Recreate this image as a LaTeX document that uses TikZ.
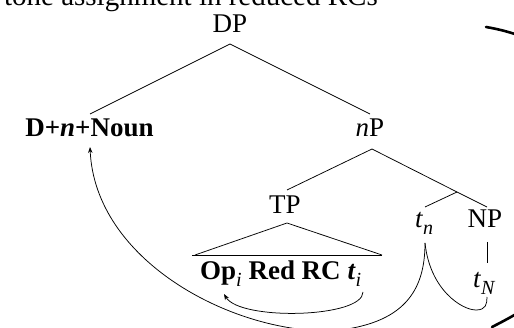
\documentclass[tikz,border=0pt]{standalone}
\usepackage{fontspec}
\setmainfont{Liberation Serif}
\usetikzlibrary{arrows.meta}
% lowered italic index (subscript) in text
\newcommand\lowidx[1]{\raisebox{-0.24em}{\fontsize{20}{21}\selectfont\normalfont\itshape #1}}
\begin{document}
\begin{tikzpicture}[x=1pt,y=-1pt,
  lbl/.style={anchor=base,inner sep=0pt,font=\fontsize{27}{32}\selectfont},
  branch/.style={line width=0.75pt},
  move/.style={line width=0.75pt},
  movearrow/.style={move,-{Stealth[length=6pt,width=4.5pt]}},
  bracket/.style={line width=2.6pt,line cap=round}]
\useasboundingbox (0,0) rectangle (514,328);
\clip (0,0) rectangle (514,328);

% heading
\node[lbl,anchor=base east,font=\fontsize{29}{34}\selectfont] (title) at (378,6)
  {tone assignment in reduced RCs};

% labels
\node[lbl] (DP) at (230,33) {DP};
\node[lbl] (Dn) at (89.5,137) {\textbf{D+\textit{n}+Noun}};
\node[lbl] (nP) at (370,137) {\textit{n}P};
\node[lbl] (TP) at (285,214) {TP};
\node[lbl,anchor=base west] (tn) at (415,228) {\textit{t}\lowidx{n}};
\node[lbl] (NP) at (485,228) {NP};
\node[lbl,anchor=base west] (tN) at (473,288) {\textit{t}\lowidx{N}};
\node[lbl,anchor=base west] (rc) at (200,280)
  {\textbf{Op}\lowidx{i} \textbf{Red RC \textit{t}}\lowidx{i}};

% attachment points of the branches
\coordinate (DPtop) at (230,44);
\coordinate (Dnhead) at (90,114);
\coordinate (nPhead) at (370,114);
\coordinate (nPtop) at (372,149);
\coordinate (TPhead) at (287,190);
\coordinate (bar) at (457,192);
\coordinate (tnhead) at (425,207);
\coordinate (NPhead) at (487,207);
\coordinate (NPfoot) at (487,242);
\coordinate (tNhead) at (487,263);
\coordinate (TPtop) at (287,223);
\coordinate (triL) at (195,255);
\coordinate (triR) at (382,255);
\coordinate (baseL) at (192,255);
\coordinate (tnfoot) at (425,243);
\coordinate (tNfoot) at (487,297);
\coordinate (Dnfoot) at (90,147);
\coordinate (tifoot) at (363,292);
\coordinate (Opfoot) at (224,294);

% tree
\draw[branch] (Dnhead) -- (DPtop) -- (nPhead);
\draw[branch] (TPhead) -- (nPtop) -- (bar) -- (NPhead);
\draw[branch] (bar) -- (tnhead);
\draw[branch] (NPfoot) -- (tNhead);
\draw[branch] (triL) -- (TPtop) -- (triR);
\draw[branch] (baseL) -- (triR);

% movement paths
\draw[movearrow] (tnfoot) .. controls (425,290) and (405,325) .. (330,331)
  .. controls (230,332) and (95,260) .. (Dnfoot);
\draw[move] (tnfoot) .. controls (430,290) and (462,310) .. (476,310)
  .. controls (486,310) and (487,304) .. (tNfoot);
\draw[movearrow] (tifoot) .. controls (363,318) and (240,321) .. (Opfoot);

% large closing bracket
\draw[bracket] (486,27) .. controls (575,42) and (600,100) .. (600,177)
  .. controls (600,255) and (565,290) .. (492,327);
\end{tikzpicture}
\end{document}
